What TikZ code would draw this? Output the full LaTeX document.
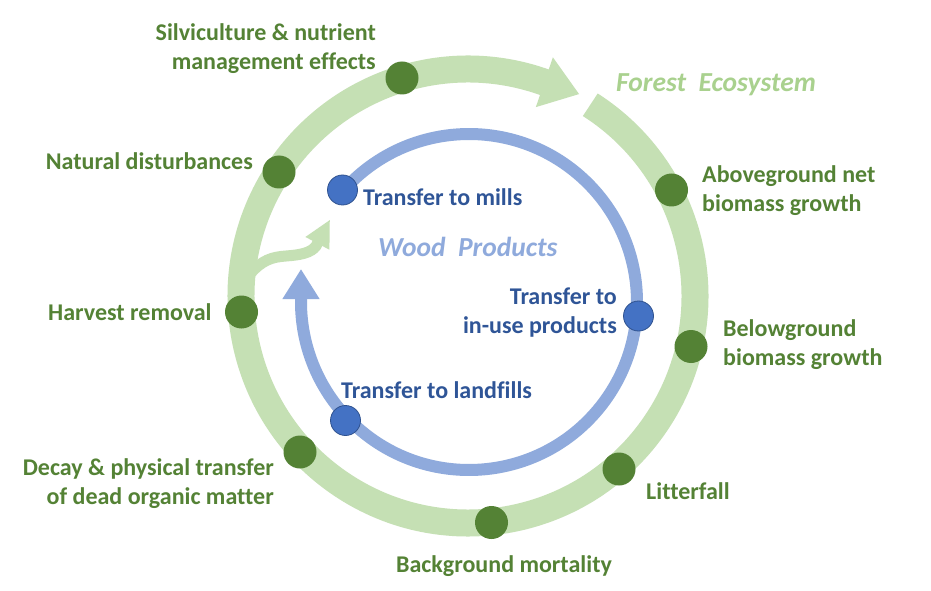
\documentclass[tikz,border=0pt]{standalone}
\usepackage{fontspec}
\setmainfont{Carlito}[Ligatures={NoCommon}]
\usetikzlibrary{arrows.meta}
\definecolor{ringgreen}{HTML}{C5E0B4}
\definecolor{dotgreen}{HTML}{548235}
\definecolor{titlegreen}{HTML}{A9D18E}
\definecolor{ringblue}{HTML}{8FAADC}
\definecolor{dotblue}{HTML}{4472C4}
\definecolor{dotblueline}{HTML}{2F528F}
\definecolor{textblue}{HTML}{2F5597}
\tikzset{
  greenring/.style={draw=ringgreen, line width=27pt},
  bluering/.style={draw=ringblue, line width=12pt},
  branch/.style={draw=ringgreen, line width=11pt},
  gdot/.style={circle, fill=dotgreen, minimum size=33pt, inner sep=0pt},
  bdot/.style={circle, fill=dotblue, draw=dotblueline, line width=0.8pt, minimum size=30pt, inner sep=0pt},
  glabel/.style={font=\fontsize{24}{29}\selectfont\bfseries, text=dotgreen, inner sep=0pt},
  blabel/.style={font=\fontsize{24}{29}\selectfont\bfseries, text=textblue, inner sep=0pt},
  title/.style={font=\fontsize{27.5}{32}\selectfont\bfseries\itshape, inner sep=0pt}
}
\begin{document}
\begin{tikzpicture}[x=1pt, y=1pt]
  \useasboundingbox[fill=white] (0,0) rectangle (931,590);
  \coordinate (gc) at (468,294);
  \coordinate (bc) at (469,288);

  % forest ecosystem cycle
  \draw[greenring, -{Triangle[length=37pt, width=50pt]}]
    (gc) ++(57.4:227) arc[start angle=57.4, end angle=-288.9, radius=227]
    -- ++(-18.9:40);

  % harvest branch into the wood products cycle
  \coordinate (hb) at (250,316);
  \draw[branch, -{Triangle[length=27pt, width=25pt]}]
    (hb) .. controls (262,330) and (272,333) .. (286,334)
    .. controls (300,335) and (311,337) .. (316,344) -- ++(62:30);

  % wood products cycle
  \draw[bluering, -{Triangle[length=30pt, width=35pt]}]
    (bc) ++(138.5:168) arc[start angle=138.5, end angle=-180, radius=168]
    -- ++(90:33);

  % forest flux points
  \node[gdot] (silv) at (402,512) {};
  \node[gdot] (nat) at (279,418) {};
  \node[gdot] (harv) at (241.5,278) {};
  \node[gdot] (decay) at (300,138) {};
  \node[gdot] (mort) at (491.5,67.5) {};
  \node[gdot] (litter) at (619,121) {};
  \node[gdot] (below) at (691,243.5) {};
  \node[gdot] (above) at (671.5,400) {};

  % wood product flux points
  \node[bdot] (mills) at (342.5,400) {};
  \node[bdot] (inuse) at (638.5,274) {};
  \node[bdot] (landfill) at (345.5,169.5) {};

  % labels
  \node[glabel, anchor=east, align=right] (tsilv) at (376,541) {Silviculture \& nutrient\\management effects};
  \node[glabel, anchor=east] (tnat) at (253,429) {Natural disturbances};
  \node[glabel, anchor=west] (tharv) at (48,277.5) {Harvest removal};
  \node[glabel, anchor=east, align=right] (tdecay) at (274,106) {Decay \& physical transfer\\of dead organic matter};
  \node[glabel] (tmort) at (504,23.5) {Background mortality};
  \node[glabel, anchor=west] (tlitter) at (646,99) {Litterfall};
  \node[glabel, anchor=west, align=left] (tbelow) at (723,245) {Belowground\\biomass growth};
  \node[glabel, anchor=west, align=left] (tabove) at (702,399) {Aboveground net\\biomass growth};
  \node[title, text=titlegreen, anchor=west] (tforest) at (616,505) {Forest\ \ Ecosystem};

  \node[blabel, anchor=west] (tmills) at (363,392.5) {Transfer to mills};
  \node[title, text=ringblue, anchor=west] (twood) at (378,343) {Wood\ \ Products};
  \node[blabel, anchor=east, align=right] (tinuse) at (617,277) {Transfer to\\in-use products};
  \node[blabel, anchor=west] (tlandfill) at (341,199.5) {Transfer to landfills};
\end{tikzpicture}
\end{document}
